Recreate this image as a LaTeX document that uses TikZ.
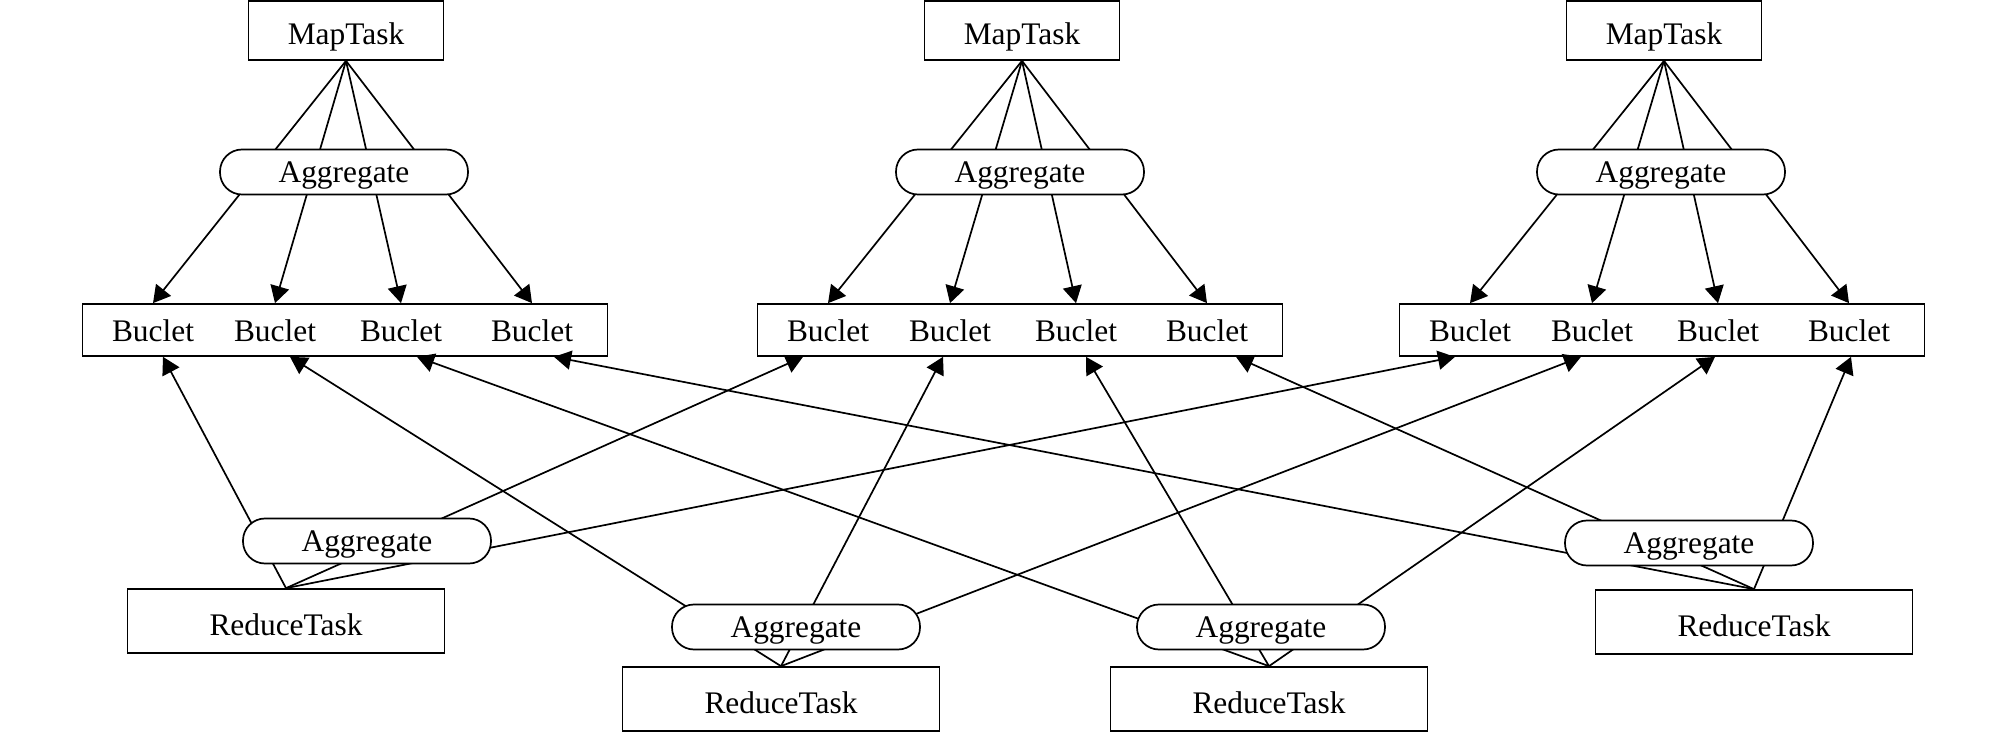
\documentclass[tikz,border=0pt]{standalone}
\usepackage{fontspec}
\setmainfont{Liberation Serif}
\usetikzlibrary{arrows.meta}

\tikzset{
    task/.style={draw, rectangle, line width=0.85pt, inner sep=0pt, minimum width=97.5pt, minimum height=29.5pt, text height=14pt, text depth=0pt, font=\fontsize{15.7}{18}\selectfont},
    reduce/.style={task, minimum width=158.5pt, minimum height=32pt},
    aggregate/.style={draw, rectangle, rounded corners=11pt, fill=white, line width=0.85pt, inner sep=0pt, minimum width=124pt, minimum height=22.5pt, text height=10.5pt, text depth=0pt, font=\fontsize{15.7}{18}\selectfont},
    bucketbox/.style={draw, rectangle, line width=0.85pt, inner sep=0pt, minimum width=262.5pt, minimum height=26pt},
    buclet/.style={rectangle, inner sep=0pt, minimum width=40pt, minimum height=26pt, text height=12pt, text depth=0pt, font=\fontsize{15.7}{18}\selectfont}
}

\begin{document}
\begin{tikzpicture}[
    x=0.5pt, y=-0.5pt, line width=0.85pt, >={Triangle[length=8.5pt, width=9.5pt]}
]
\useasboundingbox (0,0) rectangle (2008,732);

% map side
\node (map_task_1) [task] at (346,30.5) {MapTask};
\node (map_task_2) [task] at (1022,30.5) {MapTask};
\node (map_task_3) [task] at (1664,30.5) {MapTask};

% bucket rows
\node (buclet_box_1) [bucketbox] at (345,330) {};
\node (buclet_box_2) [bucketbox] at (1020,330) {};
\node (buclet_box_3) [bucketbox] at (1662,330) {};

\node (buclet_1_1) [buclet] at (153,330) {Buclet};
\node (buclet_1_2) [buclet] at (275,330) {Buclet};
\node (buclet_1_3) [buclet] at (401,330) {Buclet};
\node (buclet_1_4) [buclet] at (532,330) {Buclet};
\node (buclet_2_1) [buclet] at (828,330) {Buclet};
\node (buclet_2_2) [buclet] at (950,330) {Buclet};
\node (buclet_2_3) [buclet] at (1076,330) {Buclet};
\node (buclet_2_4) [buclet] at (1207,330) {Buclet};
\node (buclet_3_1) [buclet] at (1470,330) {Buclet};
\node (buclet_3_2) [buclet] at (1592,330) {Buclet};
\node (buclet_3_3) [buclet] at (1718,330) {Buclet};
\node (buclet_3_4) [buclet] at (1849,330) {Buclet};

% reduce side
\node (reduce_task_1) [reduce] at (286,621) {ReduceTask};
\node (reduce_task_2) [reduce] at (781,699) {ReduceTask};
\node (reduce_task_3) [reduce] at (1269,699) {ReduceTask};
\node (reduce_task_4) [reduce] at (1754,622) {ReduceTask};

% map task -> buclets
\draw[->] (map_task_1.south) -- (buclet_1_1.north);
\draw[->] (map_task_1.south) -- (buclet_1_2.north);
\draw[->] (map_task_1.south) -- (buclet_1_3.north);
\draw[->] (map_task_1.south) -- (buclet_1_4.north);
\draw[->] (map_task_2.south) -- (buclet_2_1.north);
\draw[->] (map_task_2.south) -- (buclet_2_2.north);
\draw[->] (map_task_2.south) -- (buclet_2_3.north);
\draw[->] (map_task_2.south) -- (buclet_2_4.north);
\draw[->] (map_task_3.south) -- (buclet_3_1.north);
\draw[->] (map_task_3.south) -- (buclet_3_2.north);
\draw[->] (map_task_3.south) -- (buclet_3_3.north);
\draw[->] (map_task_3.south) -- (buclet_3_4.north);

% reduce task -> buclets
\draw[->] (reduce_task_1.north) -- ([xshift=5pt]buclet_1_1.south);
\draw[->] (reduce_task_1.north) -- ([xshift=-12.5pt]buclet_2_1.south);
\draw[->] (reduce_task_1.north) -- ([xshift=-7.5pt]buclet_3_1.south);
\draw[->] (reduce_task_2.north) -- ([xshift=7.5pt]buclet_1_2.south);
\draw[->] (reduce_task_2.north) -- ([xshift=-3.5pt]buclet_2_2.south);
\draw[->] (reduce_task_2.north) -- ([xshift=-5.5pt]buclet_3_2.south);
\draw[->] (reduce_task_3.north) -- ([xshift=8pt]buclet_1_3.south);
\draw[->] (reduce_task_3.north) -- ([xshift=5pt]buclet_2_3.south);
\draw[->] (reduce_task_3.north) -- ([xshift=-1.5pt]buclet_3_3.south);
\draw[->] (reduce_task_4.north) -- ([xshift=11pt]buclet_1_4.south);
\draw[->] (reduce_task_4.north) -- ([xshift=14.5pt]buclet_2_4.south);
\draw[->] (reduce_task_4.north) -- ([xshift=1pt]buclet_3_4.south);

% aggregates sit on top of the edges
\node (agg_map_1) [aggregate] at (344,172) {Aggregate};
\node (agg_map_2) [aggregate] at (1020,172) {Aggregate};
\node (agg_map_3) [aggregate] at (1661,172) {Aggregate};
\node (agg_reduce_1) [aggregate] at (367,541) {Aggregate};
\node (agg_reduce_2) [aggregate] at (796,627) {Aggregate};
\node (agg_reduce_3) [aggregate] at (1261,627) {Aggregate};
\node (agg_reduce_4) [aggregate] at (1689,543) {Aggregate};
\end{tikzpicture}
\end{document}
